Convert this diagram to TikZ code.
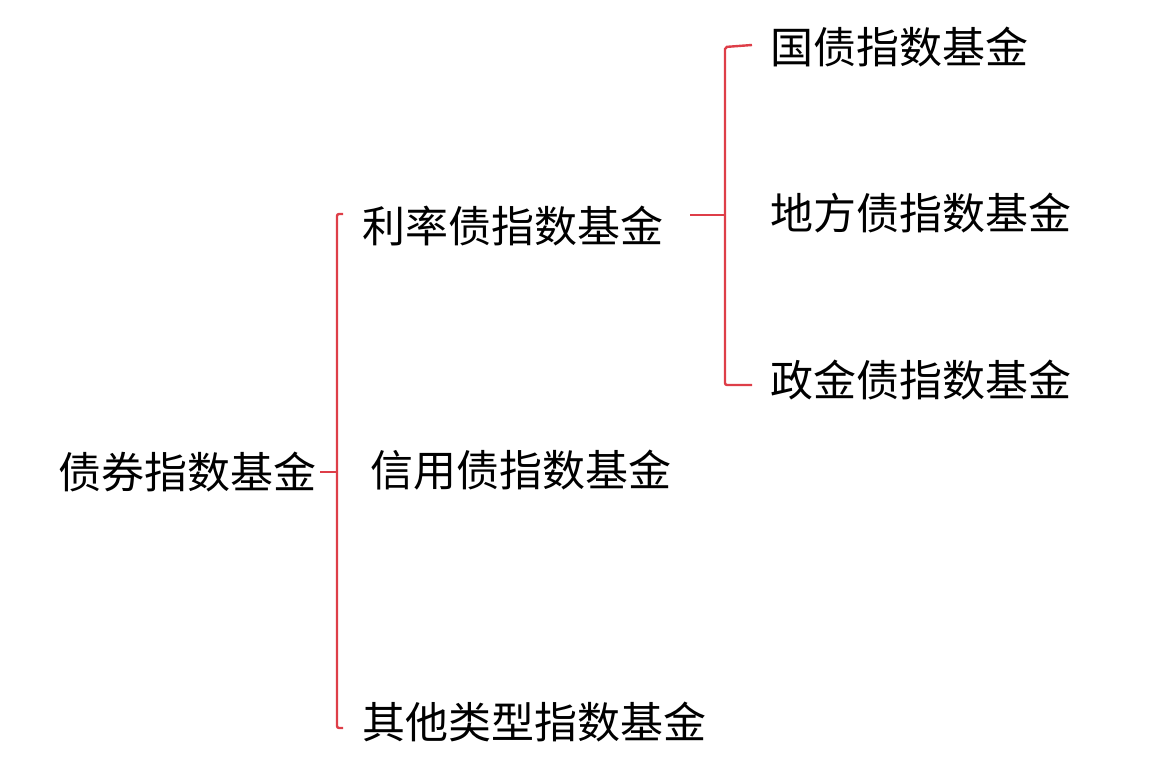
\documentclass[tikz,border=0pt]{standalone}
\usepackage{fontspec}
\setmainfont{Noto Sans CJK SC}
\usetikzlibrary{calc}
\definecolor{brk}{RGB}{222,62,72}
\tikzset{lbl/.style={anchor=west,inner sep=0pt,font=\fontsize{43}{50}\selectfont}}
\tikzset{brace/.style={brk,line width=2.4pt,rounded corners=2pt}}
\begin{document}
\begin{tikzpicture}[x=1pt,y=-1pt]
\useasboundingbox(0,0)rectangle(1150,762);
% labels
\node[lbl](root)at(58,472){债券指数基金};
\node[lbl](rate)at(362,226){利率债指数基金};
\node[lbl](credit)at(370,470){信用债指数基金};
\node[lbl](other)at(362,722){其他类型指数基金};
\node[lbl](gov)at(770,47){国债指数基金};
\node[lbl](local)at(770,213){地方债指数基金};
\node[lbl](policy)at(770,380){政金债指数基金};
% first brace
\coordinate(b1)at(337,472);
\draw[brace]($(root.east)+(4,0)$)--(b1);
\draw[brace](343,214)--(b1|-{0,214})--(b1|-{0,728})--(343,728);
% second brace
\coordinate(b2)at(725,215);
\draw[brace]($(rate.east)+(27,-11)$)--(b2);
\draw[brace](752,45)--(b2|-{0,47})--(b2|-{0,385})--(752,385);
\end{tikzpicture}
\end{document}
